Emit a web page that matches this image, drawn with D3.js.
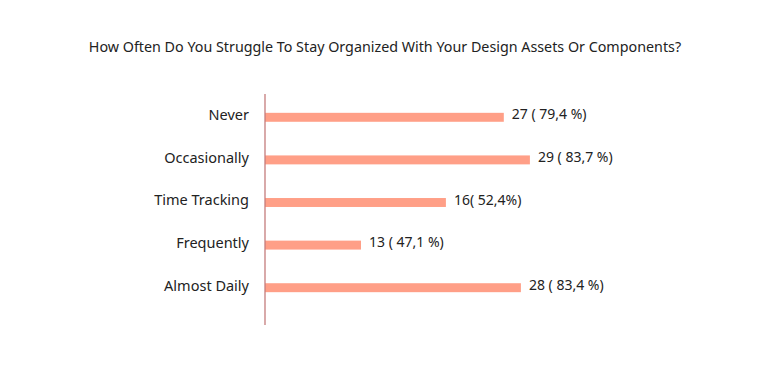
<!DOCTYPE html>
<html><head><meta charset="utf-8">
<script src="https://cdn.jsdelivr.net/npm/d3@7"></script>
<style>body{margin:0;background:#fff}text{font-family:"Noto Sans",Lato,sans-serif}</style>
</head><body><svg id="c" width="768" height="392"></svg>
<script>
const title = "How Often Do You Struggle To Stay Organized With Your Design Assets Or Components?";
const categories = ["Never","Occasionally","Time Tracking","Frequently","Almost Daily"];
const barValues = [79.6, 88.3, 60.3, 32.0, 85.3];
const valueLabels = ["27 ( 79,4 %)","29 ( 83,7 %)","16( 52,4%)","13 ( 47,1 %)","28 ( 83,4 %)"];

const svg = d3.select("#c");
svg.append("rect").attr("width",768).attr("height",392).attr("fill","#fff");
svg.append("text").attr("x",385).attr("y",52).attr("text-anchor","middle")
  .attr("font-size",14.3).attr("fill","#222").text(title);

const x = d3.scaleLinear().domain([0,100]).range([265,565]);
const y = d3.scaleBand().domain(categories).range([96,309]).paddingInner(0.79).paddingOuter(0.395);

svg.selectAll("rect.bar").data(categories).join("rect").attr("class","bar")
  .attr("x",x(0)).attr("y",d=>y(d))
  .attr("width",(d,i)=>x(barValues[i])-x(0)).attr("height",y.bandwidth())
  .attr("fill","#FF9F87");

const axis = d3.axisLeft(y).tickSize(0).tickPadding(16);
const g = svg.append("g").attr("transform",`translate(${x(0)},0)`).call(axis);
g.select(".domain").remove();
g.selectAll(".tick text").attr("font-size",14.5).attr("fill","#222").attr("dy","0.2em")
  .style("font-family",'"Noto Sans",Lato,sans-serif');
svg.append("line").attr("x1",x(0)).attr("x2",x(0)).attr("y1",94).attr("y2",325)
  .attr("stroke","#C47C7C").attr("stroke-width",1.3);

svg.selectAll("text.val").data(categories).join("text").attr("class","val")
  .attr("x",(d,i)=>x(barValues[i])+8).attr("y",d=>y(d)+y.bandwidth()/2)
  .attr("dy","0.15em").attr("font-size",14).attr("fill","#222").text((d,i)=>valueLabels[i]);
</script></body></html>
